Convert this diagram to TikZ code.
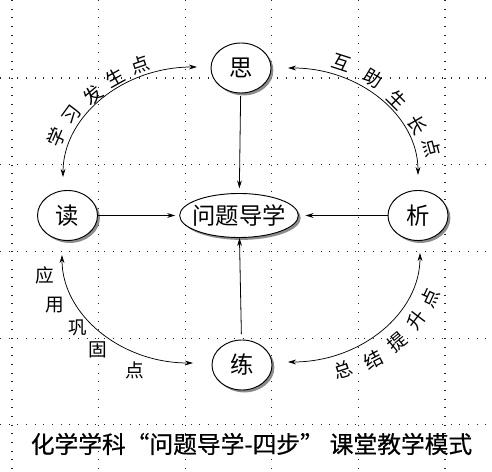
\documentclass[tikz,border=0pt]{standalone}
\usepackage{fontspec}
\setmainfont{Noto Sans CJK SC}
\newfontfamily\titlefont[FakeBold=0.5]{Noto Sans CJK SC}
\usetikzlibrary{shapes.geometric,shadows,arrows.meta,calc}
\begin{document}
\begin{tikzpicture}[x=0.75pt,y=0.75pt,
  gridline/.style={line width=0.8pt, black!85, dash pattern=on 0.8pt off 5.7pt},
  stepnode/.style={ellipse, draw, line width=0.7pt, fill=white, inner sep=0pt,
    minimum width=45pt, minimum height=37.5pt, font=\fontsize{17.5pt}{20pt}\selectfont,
    drop shadow={shadow xshift=1.8pt, shadow yshift=-1.8pt, fill=black!45, opacity=1}},
  hubnode/.style={stepnode, minimum width=89pt, minimum height=33pt},
  flow/.style={-{Stealth[length=6pt,width=3.6pt]}, line width=0.6pt},
  loopline/.style={{Stealth[length=6pt,width=3.6pt]}-{Stealth[length=6pt,width=3.6pt]}, line width=0.55pt},
  lbl/.style={font=\fontsize{14pt}{16pt}\selectfont, inner sep=0pt},
  titletext/.style={font=\titlefont\fontsize{17.8pt}{20pt}\selectfont, inner sep=0pt}
]
\useasboundingbox (0,0) rectangle (492,471);
\fill[white] (0,0) rectangle (492,471);
% dotted grid
\foreach \gx in {12,98.6,185.2,271.8,358.4,445}
  \draw[gridline] (\gx,471) -- (\gx,0);
\foreach \gy in {393,306.3,219.6,132.9,46.2}
  \draw[gridline] (0,\gy) -- (492,\gy);

% nodes
\node[stepnode] (si) at (241,403) {\makebox[0pt]{思}};
\node[stepnode] (du) at (67.5,255.5) {\makebox[0pt]{读}};
\node[stepnode] (xi) at (418,255.5) {\makebox[0pt]{析}};
\node[stepnode] (lian) at (242,106) {\makebox[0pt]{练}};
\node[hubnode] (hub) at (239,255.5) {\makebox[0pt]{问题导学}};

% straight connectors
\draw[flow, shorten <=2pt, shorten >=3.5pt] (si) -- (hub);
\draw[flow, shorten >=3pt] (du) -- (hub);
\draw[flow, shorten >=5pt] (xi) -- (hub);
\draw[flow, shorten <=4pt] (lian) -- (hub);

% arc end points
\coordinate (a1s) at (63,294);
\coordinate (a1e) at (197,404);
\coordinate (a2s) at (288,403);
\coordinate (a2e) at (418,296);
\coordinate (a3s) at (62,216);
\coordinate (a3e) at (193,108);
\coordinate (a4s) at (420,218);
\coordinate (a4e) at (288,109);

\draw[loopline] (a1s) .. controls +(0,60.8) and +(-74,0) .. (a1e);
\draw[loopline] (a2s) .. controls +(71.8,0) and +(0,59.1) .. (a2e);
\draw[loopline] (a3s) .. controls +(0,-59.6) and +(-72.3,0) .. (a3e);
\draw[loopline] (a4s) .. controls +(0,-60.2) and +(72.9,0) .. (a4e);

% arc labels
\node[lbl, rotate=67] (t1a) at (57,334) {学};
\node[lbl, rotate=54] (t1b) at (72,356) {习};
\node[lbl, rotate=40] (t1c) at (93,376) {发};
\node[lbl, rotate=29] (t1d) at (115,393) {生};
\node[lbl, rotate=19] (t1e) at (140,406) {点};

\node[lbl, rotate=-18] (t2a) at (342,408) {互};
\node[lbl, rotate=-31] (t2b) at (373,393) {助};
\node[lbl, rotate=-45] (t2c) at (397,371) {生};
\node[lbl, rotate=-60] (t2d) at (417,346) {长};
\node[lbl, rotate=-75] (t2e) at (432,323) {点};

\node[lbl] (t3a) at (45,196) {应};
\node[lbl] (t3b) at (55,166) {用};
\node[lbl] (t3c) at (78,143) {巩};
\node[lbl] (t3d) at (98,121) {固};
\node[lbl] (t3e) at (135,101) {点};

\node[lbl, rotate=18] (t4a) at (343,101) {总};
\node[lbl, rotate=28] (t4b) at (373,111) {结};
\node[lbl, rotate=40] (t4c) at (397,129) {提};
\node[lbl, rotate=53] (t4d) at (417,151) {升};
\node[lbl, rotate=65] (t4e) at (430,173) {点};

% title
\node[titletext] (title) at (251.5,27) {化学学科\makebox[1em][r]{“}问题导学-四步\makebox[1.25em][l]{”}课堂教学模式};
\end{tikzpicture}
\end{document}
